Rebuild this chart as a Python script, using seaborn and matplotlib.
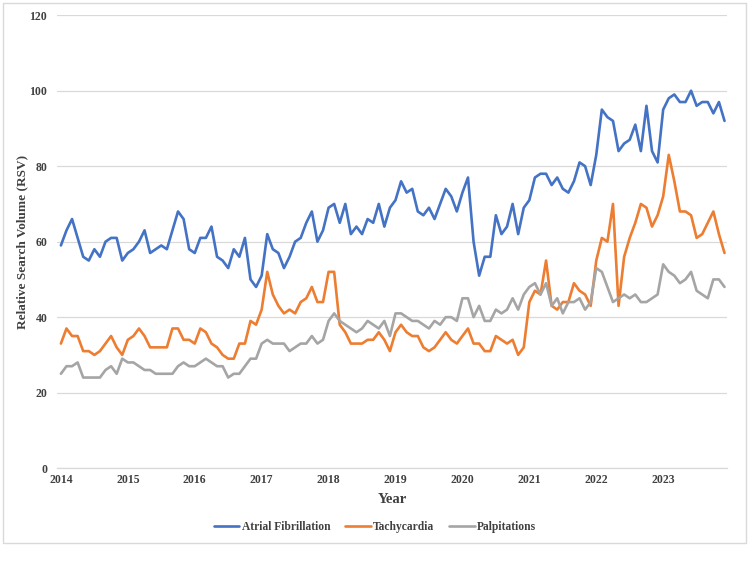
import matplotlib
matplotlib.use("Agg")
import matplotlib.pyplot as plt
import matplotlib.patches as mpatches
import numpy as np
import pandas as pd
import seaborn as sns

# Monthly relative search volume, Jan 2014 - Dec 2023
years = [2014, 2015, 2016, 2017, 2018, 2019, 2020, 2021, 2022, 2023]

atrial_fibrillation = [
    59, 63, 66, 61, 56, 55, 58, 56, 60, 61, 61, 55,
    57, 58, 60, 63, 57, 58, 59, 58, 63, 68, 66, 58,
    57, 61, 61, 64, 56, 55, 53, 58, 56, 61, 50, 48,
    51, 62, 58, 57, 53, 56, 60, 61, 65, 68, 60, 63,
    69, 70, 65, 70, 62, 64, 62, 66, 65, 70, 64, 69,
    71, 76, 73, 74, 68, 67, 69, 66, 70, 74, 72, 68,
    73, 77, 60, 51, 56, 56, 67, 62, 64, 70, 62, 69,
    71, 77, 78, 78, 75, 77, 74, 73, 76, 81, 80, 75,
    83, 95, 93, 92, 84, 86, 87, 91, 84, 96, 84, 81,
    95, 98, 99, 97, 97, 100, 96, 97, 97, 94, 97, 92,
]
tachycardia = [
    33, 37, 35, 35, 31, 31, 30, 31, 33, 35, 32, 30,
    34, 35, 37, 35, 32, 32, 32, 32, 37, 37, 34, 34,
    33, 37, 36, 33, 32, 30, 29, 29, 33, 33, 39, 38,
    42, 52, 46, 43, 41, 42, 41, 44, 45, 48, 44, 44,
    52, 52, 38, 36, 33, 33, 33, 34, 34, 36, 34, 31,
    36, 38, 36, 35, 35, 32, 31, 32, 34, 36, 34, 33,
    35, 37, 33, 33, 31, 31, 35, 34, 33, 34, 30, 32,
    44, 47, 46, 55, 43, 42, 44, 44, 49, 47, 46, 43,
    55, 61, 60, 70, 43, 56, 61, 65, 70, 69, 64, 67,
    72, 83, 76, 68, 68, 67, 61, 62, 65, 68, 62, 57,
]
palpitations = [
    25, 27, 27, 28, 24, 24, 24, 24, 26, 27, 25, 29,
    28, 28, 27, 26, 26, 25, 25, 25, 25, 27, 28, 27,
    27, 28, 29, 28, 27, 27, 24, 25, 25, 27, 29, 29,
    33, 34, 33, 33, 33, 31, 32, 33, 33, 35, 33, 34,
    39, 41, 39, 38, 37, 36, 37, 39, 38, 37, 39, 35,
    41, 41, 40, 39, 39, 38, 37, 39, 38, 40, 40, 39,
    45, 45, 40, 43, 39, 39, 42, 41, 42, 45, 42, 46,
    48, 49, 46, 49, 43, 45, 41, 44, 44, 45, 42, 44,
    53, 52, 48, 44, 45, 46, 45, 46, 44, 44, 45, 46,
    54, 52, 51, 49, 50, 52, 47, 46, 45, 50, 50, 48,
]

series_names = ["Atrial Fibrillation", "Tachycardia", "Palpitations"]
colors = ["#4472C4", "#ED7D31", "#A5A5A5"]

month = np.arange(len(atrial_fibrillation))
df = pd.concat([
    pd.DataFrame({"month": month, "rsv": vals, "term": name})
    for name, vals in zip(series_names, [atrial_fibrillation, tachycardia, palpitations])
])

sns.set_style("white")
plt.rcParams["font.family"] = ["Liberation Serif", "DejaVu Serif"]
plt.rcParams["font.weight"] = "bold"

fig = plt.figure(figsize=(7.5, 5.64), dpi=100)
ax = fig.add_axes([0.076, 0.170, 0.893, 0.803])

sns.lineplot(data=df, x="month", y="rsv", hue="term", palette=colors,
             linewidth=1.9, ax=ax, legend=True)

ax.set_xlim(-0.7, 119.4)
ax.set_ylim(0, 120)
ax.set_yticks(range(0, 121, 20))
ax.set_xticks(np.arange(len(years)) * 12)
ax.set_xticklabels([str(y) for y in years])
ax.grid(axis="y", color="#d9d9d9", linewidth=0.9)
ax.set_axisbelow(True)
for side in ["top", "right", "left"]:
    ax.spines[side].set_visible(False)
ax.spines["bottom"].set_color("#d9d9d9")
ax.spines["bottom"].set_linewidth(0.9)
ax.tick_params(axis="both", length=0, labelsize=8.5, colors="#404040")
ax.tick_params(axis="x", pad=4)
ax.tick_params(axis="y", pad=7)
for lbl in ax.get_xticklabels() + ax.get_yticklabels():
    lbl.set_fontweight("bold")

ax.set_xlabel("Year", fontsize=10.5, fontweight="bold", color="#404040", labelpad=5)
ax.set_ylabel("Relative Search Volume (RSV)", fontsize=9.5, fontweight="bold",
              color="#404040", labelpad=1)

handles, labels = ax.get_legend_handles_labels()
ax.get_legend().remove()
fig.legend(handles, labels, loc="center", bbox_to_anchor=(0.50, 0.066), ncol=3,
           frameon=False, handlelength=2.2, handletextpad=0.2, columnspacing=1.3,
           prop={"weight": "bold", "size": 8.3})
for leg_text in fig.legends[0].get_texts():
    leg_text.set_color("#404040")

# light frame around the whole chart
fig.patches.append(mpatches.Rectangle((0.004, 0.037), 0.991, 0.958,
                                      transform=fig.transFigure, fill=False,
                                      edgecolor="#d9d9d9", linewidth=1.0))

fig.savefig("out.png", dpi=100, facecolor="white")
